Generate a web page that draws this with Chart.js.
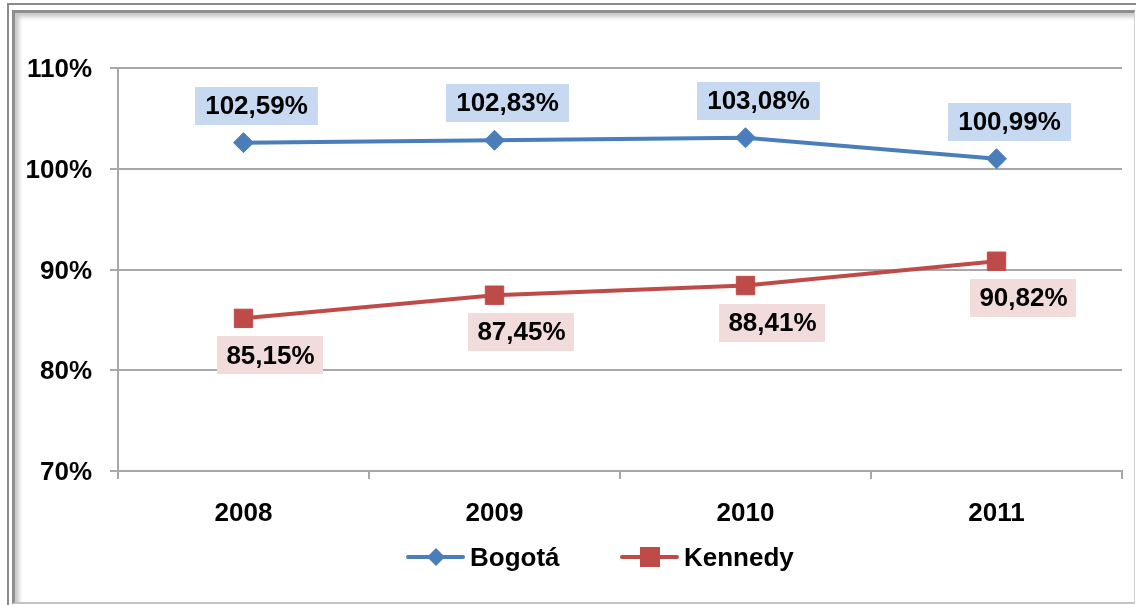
<!DOCTYPE html>
<html>
<head>
<meta charset="utf-8">
<script src="https://cdn.jsdelivr.net/npm/chart.js@4.4.1/dist/chart.umd.min.js"></script>
<style>
  html, body { margin:0; padding:0; background:#fff; width:1136px; height:605px; overflow:hidden; }
  #outer { position:absolute; left:7px; top:3px; width:1129px; height:602px;
           border-top:2px solid #8a8a8a; border-left:2px solid #8a8a8a; box-sizing:border-box; }
  #inner { position:absolute; left:12px; top:10px; width:1123px; height:594px; box-sizing:border-box;
           border-top:3px solid #8e8e8e; border-left:3px solid #8e8e8e;
           border-right:1px solid #d0d0d0; border-bottom:2px solid #c4c4c4;
           box-shadow: inset 4px 4px 4px rgba(0,0,0,0.22); }
  #wrap { position:absolute; left:0; top:0; width:1136px; height:605px; }
</style>
</head>
<body>
<div id="outer"></div>
<div id="inner"></div>
<div id="wrap"><canvas id="c"></canvas></div>
<script>
const categories = ['2008', '2009', '2010', '2011'];
const bogota = [102.59, 102.83, 103.08, 100.99];
const kennedy = [85.15, 87.45, 88.41, 90.82];
const yMin = 70, yMax = 110, yStep = 10;
const seriesNames = ['Bogotá', 'Kennedy'];

const FONT = '"Liberation Sans", Arial, sans-serif';
const BLUE = '#4a7ebb', RED = '#be4b48';
const BLUE_BOX = '#c6d9f1', RED_BOX = '#f2dcdb';

function fmt(v) { return v.toFixed(2).replace('.', ',') + '%'; }

const labelPlugin = {
  id: 'labels',
  afterDatasetsDraw(chart) {
    const ctx = chart.ctx;
    ctx.save();
    ctx.font = 'bold 26px ' + FONT;
    ctx.textAlign = 'center';
    ctx.textBaseline = 'middle';
    chart.data.datasets.forEach((ds, i) => {
      const meta = chart.getDatasetMeta(i);
      const cfg = ds.labelCfg;
      meta.data.forEach((pt, j) => {
        const txt = fmt(ds.data[j]);
        const w = ctx.measureText(txt).width + 2 * cfg.padX;
        const h = 38;
        const cx = pt.x + cfg.dx;
        const cy = pt.y + cfg.dy;
        ctx.fillStyle = cfg.bg;
        ctx.fillRect(Math.round(cx - w / 2), Math.round(cy - h / 2), Math.round(w), h);
        ctx.fillStyle = '#000';
        ctx.fillText(txt, cx, cy + 1);
      });
    });
    ctx.restore();
  },
  afterDraw(chart) {
    const ctx = chart.ctx;
    ctx.save();
    ctx.font = 'bold 26px ' + FONT;
    ctx.textBaseline = 'middle';
    ctx.textAlign = 'left';
    const y = 557;
    const items = [{ x: 408 }, { x: 622 }];
    chart.data.datasets.forEach((ds, i) => {
      const x0 = items[i].x;
      ctx.strokeStyle = ds.borderColor;
      ctx.lineWidth = 4;
      ctx.lineCap = 'round';
      ctx.beginPath();
      ctx.moveTo(x0, y);
      ctx.lineTo(x0 + 55, y);
      ctx.stroke();
      ctx.fillStyle = ds.borderColor;
      const mx = x0 + 28;
      if (ds.pointStyle === 'rectRot') {
        ctx.beginPath();
        ctx.moveTo(mx, y - 9); ctx.lineTo(mx + 9, y); ctx.lineTo(mx, y + 9); ctx.lineTo(mx - 9, y);
        ctx.closePath(); ctx.fill();
      } else {
        ctx.fillRect(mx - 10, y - 10, 20, 20);
      }
      ctx.fillStyle = '#000';
      ctx.fillText(ds.label, x0 + 62, y + 2);
    });
    ctx.restore();
  }
};

new Chart(document.getElementById('c'), {
  type: 'line',
  data: {
    labels: categories,
    datasets: [
      {
        label: seriesNames[0], data: bogota,
        borderColor: BLUE, backgroundColor: BLUE, borderWidth: 4,
        pointStyle: 'rectRot', pointRadius: 10, pointBorderWidth: 1,
        pointBackgroundColor: BLUE, pointBorderColor: BLUE,
        tension: 0, fill: false,
        labelCfg: { dx: 13, dy: -37, padX: 10, bg: BLUE_BOX }
      },
      {
        label: seriesNames[1], data: kennedy,
        borderColor: RED, backgroundColor: RED, borderWidth: 4,
        pointStyle: 'rect', pointRadius: 13, pointBorderWidth: 1,
        pointBackgroundColor: RED, pointBorderColor: RED,
        tension: 0, fill: false,
        labelCfg: { dx: 27, dy: 37, padX: 9, bg: RED_BOX }
      }
    ]
  },
  options: {
    responsive: true,
    maintainAspectRatio: false,
    animation: false,
    events: [],
    layout: { padding: { left: 0, top: 68, right: 14, bottom: 84 } },
    plugins: { legend: { display: false }, title: { display: false }, tooltip: { enabled: false } },
    scales: {
      x: {
        offset: true,
        grid: { offset: true, drawOnChartArea: false, drawTicks: true, tickLength: 8, color: '#a8a8a8', lineWidth: 2 },
        border: { display: true, color: '#a8a8a8', width: 2 },
        ticks: { color: '#000', font: { family: FONT, size: 26, weight: 'bold' }, padding: 19, maxRotation: 0 },
        afterFit(s) { s.height = 50; }
      },
      y: {
        min: yMin, max: yMax,
        grid: { color: '#a8a8a8', lineWidth: 2, tickLength: 8, drawTicks: true },
        border: { display: true, color: '#a8a8a8', width: 2 },
        ticks: { stepSize: yStep, color: '#000', font: { family: FONT, size: 26, weight: 'bold' }, padding: 18,
                 labelOffset: 2, callback: v => v + '%' },
        afterFit(s) { s.width = 118; }
      }
    }
  },
  plugins: [labelPlugin]
});
</script>
</body>
</html>
